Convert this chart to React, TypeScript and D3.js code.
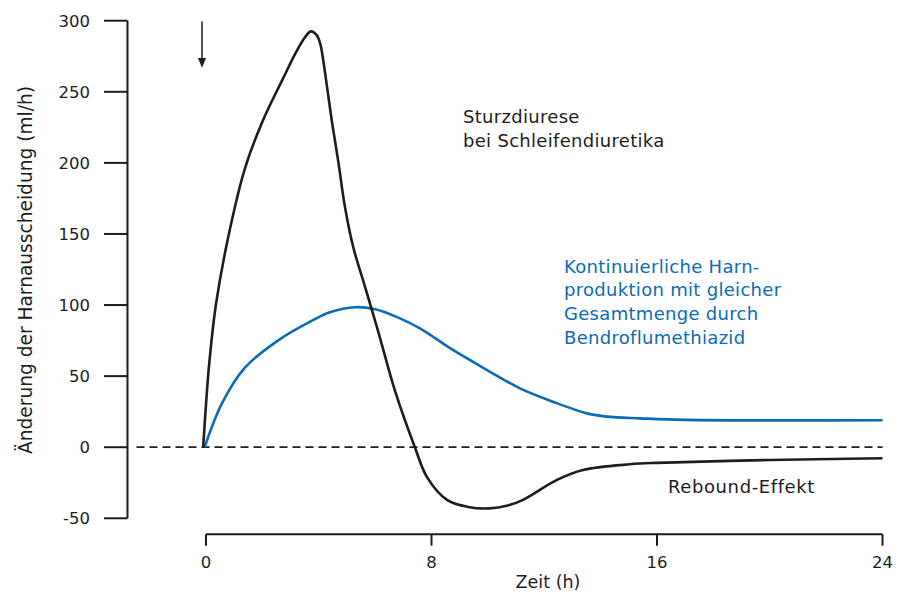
import * as d3 from "d3";

const WIDTH = 902;
const HEIGHT = 592;
const FONT = "'DejaVu Sans', sans-serif";
const BLUE = "#0b6bb5";
const INK = "#1d1d1b";

// Sturzdiurese bei Schleifendiuretika (h, ml/h)
const loopHours = [-0.1, 0.0, 0.12, 0.35, 0.78, 1.38, 2.0, 2.7, 3.2, 3.5, 3.72, 3.92, 4.05, 4.16, 4.29, 4.46, 4.7, 4.93, 5.22, 5.64, 6.1, 6.7, 7.41, 7.84, 8.55, 9.3, 10.07, 10.7, 11.25, 12.45, 13.37, 15.04, 16, 20, 24];
const loopValues = [0, 30, 60, 100, 147, 196, 229, 258, 278, 288, 292.5, 290, 284, 272, 254, 230, 200, 169, 141, 113, 82, 40, 0, -21, -37, -42, -43, -41, -37, -23, -16, -12, -11, -9, -7.8];

// Bendroflumethiazid
const thiazideHours = [-0.05, 0.57, 1.38, 2.55, 3.76, 4.4, 5.3, 6.0, 6.78, 7.59, 8.76, 9.97, 11.14, 12.31, 13.52, 14.22, 15.4, 17, 24];
const thiazideValues = [0, 31, 56, 75, 89, 95, 98.5, 97, 91.5, 83.6, 68.4, 54.3, 41.4, 32, 23.8, 21.5, 20.3, 19.2, 19];

const yTicks = [-50, 0, 50, 100, 150, 200, 250, 300];
const xTicks = [0, 8, 16, 24];

const loopLabel = ["Sturzdiurese", "bei Schleifendiuretika"];
const thiazideLabel = ["Kontinuierliche Harn-", "produktion mit gleicher", "Gesamtmenge durch", "Bendroflumethiazid"];

export default function App() {
  const x = d3.scaleLinear().domain([0, 24]).range([206, 882.5]);
  const y = d3.scaleLinear().domain([-50, 300]).range([518.3, 20.7]);
  const yAxisX = 127.5;
  const xAxisY = 534.3;

  const line = d3
    .line<[number, number]>()
    .x((d) => x(d[0]))
    .y((d) => y(d[1]))
    .curve(d3.curveCatmullRom.alpha(0.5));

  const loopPath = line(loopHours.map((h, i) => [h, loopValues[i]]));
  const thiazidePath = line(thiazideHours.map((h, i) => [h, thiazideValues[i]]));

  return (
    <svg
      width={WIDTH}
      height={HEIGHT}
      style={{ position: "absolute", left: 0, top: 0, background: "#fff" }}
      fontFamily={FONT}
    >
      {/* Y axis */}
      <line x1={yAxisX} x2={yAxisX} y1={y(300)} y2={y(-50)} stroke={INK} strokeWidth={2} />
      {yTicks.map((t) => (
        <g key={t} transform={`translate(0,${y(t)})`}>
          <line x1={104} x2={yAxisX} stroke={INK} strokeWidth={2} />
          <text x={90} dy="0.36em" textAnchor="end" fontSize={16.5} fill={INK}>
            {t}
          </text>
        </g>
      ))}
      <text
        transform={`translate(32,${270}) rotate(-90)`}
        textAnchor="middle"
        fontSize={18.6}
        fill={INK}
      >
        Änderung der Harnausscheidung (ml/h)
      </text>

      {/* X axis */}
      <line x1={x(0)} x2={x(24)} y1={xAxisY} y2={xAxisY} stroke={INK} strokeWidth={2} />
      {xTicks.map((t) => (
        <g key={t} transform={`translate(${x(t)},0)`}>
          <line y1={xAxisY} y2={545.7} stroke={INK} strokeWidth={2} />
          <text y={568} textAnchor="middle" fontSize={16.5} fill={INK}>
            {t}
          </text>
        </g>
      ))}
      <text x={548} y={588} textAnchor="middle" fontSize={17.5} fill={INK}>
        Zeit (h)
      </text>

      {/* zero reference */}
      <line
        x1={136.5}
        x2={x(24)}
        y1={y(0)}
        y2={y(0)}
        stroke={INK}
        strokeWidth={1.8}
        strokeDasharray="8,5"
      />

      {/* dosing arrow */}
      <line x1={202} x2={202} y1={21.5} y2={60} stroke={INK} strokeWidth={1.5} />
      <path d="M198,58 L206,58 L202,67.7 Z" fill={INK} />

      <path d={thiazidePath ?? ""} fill="none" stroke={BLUE} strokeWidth={2.6} />
      <path d={loopPath ?? ""} fill="none" stroke={INK} strokeWidth={2.6} strokeLinejoin="round" />

      {loopLabel.map((s, i) => (
        <text key={s} x={463} y={123 + i * 24} fontSize={18} letterSpacing={0.3} fill={INK}>
          {s}
        </text>
      ))}
      {thiazideLabel.map((s, i) => (
        <text key={s} x={564} y={272.7 + i * 23.6} fontSize={18} letterSpacing={0.3} fill={BLUE}>
          {s}
        </text>
      ))}
      <text x={668} y={492.7} fontSize={18} letterSpacing={0.6} fill={INK}>
        Rebound-Effekt
      </text>
    </svg>
  );
}
